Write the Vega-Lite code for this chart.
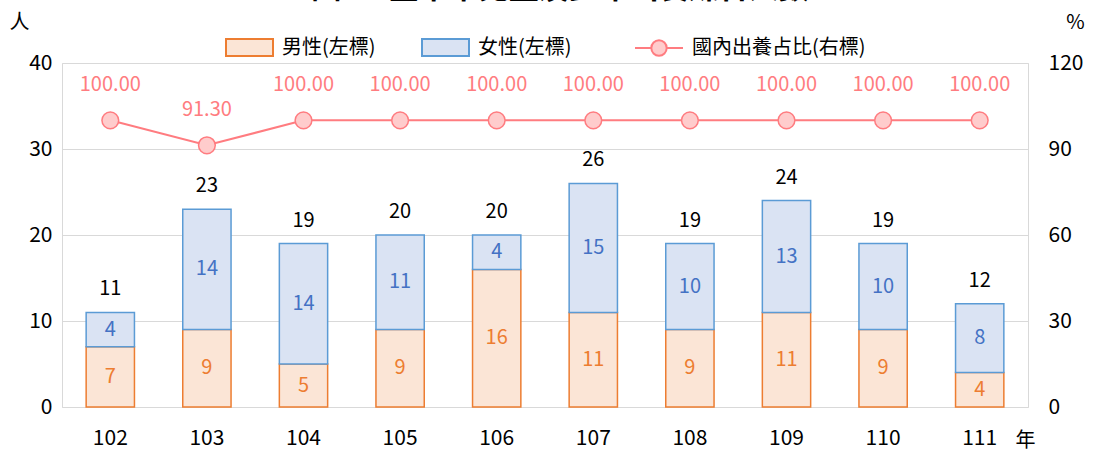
{
  "$schema": "https://vega.github.io/schema/vega-lite/v6.json",
  "width": 966,
  "height": 344,
  "autosize": {"type": "none"},
  "padding": {"left": 62, "top": 63, "right": 67, "bottom": 46},
  "config": {
    "font": "Noto Sans CJK TC",
    "view": {"stroke": "#D9D9D9", "strokeWidth": 1},
    "axis": {"labelFont": "Noto Sans CJK TC", "titleFont": "Noto Sans CJK TC", "labelColor": "#000000", "titleColor": "#000000", "labelFontSize": 21, "titleFontSize": 20, "titleFontWeight": "normal", "ticks": false, "domain": false},
    "legend": {"labelFont": "Noto Sans CJK TC", "labelFontSize": 20, "labelColor": "#000000", "labelLimit": 0}
  },
  "title": {"text": "圖1　臺中市兒童及少年出養媒合人數", "fontSize": 30, "fontWeight": "bold", "font": "Noto Sans CJK TC", "anchor": "middle", "baseline": "bottom", "dx": 15, "offset": -22, "color": "#000000"},
  "datasets": {
    "bars": [
      {"year": "102", "sex": "男性(左標)", "n": 7}, {"year": "102", "sex": "女性(左標)", "n": 4},
      {"year": "103", "sex": "男性(左標)", "n": 9}, {"year": "103", "sex": "女性(左標)", "n": 14},
      {"year": "104", "sex": "男性(左標)", "n": 5}, {"year": "104", "sex": "女性(左標)", "n": 14},
      {"year": "105", "sex": "男性(左標)", "n": 9}, {"year": "105", "sex": "女性(左標)", "n": 11},
      {"year": "106", "sex": "男性(左標)", "n": 16}, {"year": "106", "sex": "女性(左標)", "n": 4},
      {"year": "107", "sex": "男性(左標)", "n": 11}, {"year": "107", "sex": "女性(左標)", "n": 15},
      {"year": "108", "sex": "男性(左標)", "n": 9}, {"year": "108", "sex": "女性(左標)", "n": 10},
      {"year": "109", "sex": "男性(左標)", "n": 11}, {"year": "109", "sex": "女性(左標)", "n": 13},
      {"year": "110", "sex": "男性(左標)", "n": 9}, {"year": "110", "sex": "女性(左標)", "n": 10},
      {"year": "111", "sex": "男性(左標)", "n": 4}, {"year": "111", "sex": "女性(左標)", "n": 8}
    ],
    "totals": [
      {"year": "102", "total": 11, "ratio": 100.0},
      {"year": "103", "total": 23, "ratio": 91.3},
      {"year": "104", "total": 19, "ratio": 100.0},
      {"year": "105", "total": 20, "ratio": 100.0},
      {"year": "106", "total": 20, "ratio": 100.0},
      {"year": "107", "total": 26, "ratio": 100.0},
      {"year": "108", "total": 19, "ratio": 100.0},
      {"year": "109", "total": 24, "ratio": 100.0},
      {"year": "110", "total": 19, "ratio": 100.0},
      {"year": "111", "total": 12, "ratio": 100.0}
    ]
  },
  "encoding": {
    "x": {"field": "year", "type": "ordinal", "scale": {"paddingInner": 0.5, "paddingOuter": 0.25},
      "axis": {"labelAngle": 0, "labelPadding": 20, "labelBaseline": "top", "grid": false, "title": "年", "titleX": 963, "titleY": 33, "titleAlign": "center", "titleBaseline": "middle", "titleAnchor": null}}
  },
  "layer": [
    {
      "data": {"name": "bars"},
      "layer": [
        {
          "mark": {"type": "bar", "strokeWidth": 1.5},
          "encoding": {
            "y": {"field": "n", "type": "quantitative", "stack": "zero", "scale": {"domain": [0, 40]},
              "axis": {"values": [0, 10, 20, 30, 40], "grid": true, "gridColor": "#D9D9D9", "labelPadding": 10, "title": "人", "titleAngle": 0, "titleX": -43, "titleY": -41, "titleAlign": "center", "titleBaseline": "middle"}},
            "fill": {"field": "sex", "type": "nominal", "scale": {"domain": ["男性(左標)", "女性(左標)"], "range": ["#FBE5D6", "#DAE3F3"]},
              "legend": {"orient": "none", "direction": "horizontal", "legendX": 163, "legendY": -40, "title": null, "symbolType": "M-1,-0.36H1V0.36H-1Z", "symbolSize": 2209, "symbolStrokeWidth": 2, "labelOffset": 8, "columnPadding": 42}},
            "stroke": {"field": "sex", "type": "nominal", "scale": {"domain": ["男性(左標)", "女性(左標)"], "range": ["#ED7D31", "#5B9BD5"]}, "legend": {"orient": "none", "legendX": 163, "legendY": -40, "title": null, "direction": "horizontal"}},
            "order": {"field": "sex", "sort": "descending"}
          }
        },
        {
          "mark": {"type": "text", "fontSize": 20, "baseline": "middle"},
          "encoding": {
            "y": {"field": "n", "type": "quantitative", "stack": "zero", "bandPosition": 0.5, "title": "人"},
            "text": {"field": "n", "type": "quantitative"},
            "color": {"field": "sex", "type": "nominal", "scale": {"domain": ["男性(左標)", "女性(左標)"], "range": ["#ED7D31", "#4472C4"]}, "legend": null},
            "order": {"field": "sex", "sort": "descending"}
          }
        },
        {
          "data": {"name": "totals"},
          "mark": {"type": "text", "fontSize": 20, "baseline": "bottom", "dy": -13, "color": "#000000"},
          "encoding": {
            "y": {"field": "total", "type": "quantitative", "title": "人"},
            "text": {"field": "total", "type": "quantitative"}
          }
        }
      ]
    },
    {
      "data": {"name": "totals"},
      "layer": [
        {
          "mark": {"type": "line", "strokeWidth": 2},
          "encoding": {
            "y": {"field": "ratio", "type": "quantitative", "scale": {"domain": [0, 120]},
              "axis": {"orient": "right", "values": [0, 30, 60, 90, 120], "grid": false, "labelPadding": 20, "title": "%", "titleAngle": 0, "titleX": 47, "titleY": -41, "titleAlign": "center", "titleBaseline": "middle"}},
            "stroke": {"datum": "國內出養占比(右標)", "type": "nominal", "scale": {"range": ["#FF7C80"]},
              "legend": {"orient": "none", "legendX": 572, "legendY": -40, "title": null, "symbolType": "M-1,0H-0.32M0.32,0H1M-0.32,0A0.32,0.32 0 1,0 0.32,0A0.32,0.32 0 1,0 -0.32,0Z", "symbolSize": 2304, "symbolStrokeWidth": 2, "labelOffset": 8,
                "encode": {"symbols": {"update": {"fill": {"value": "#FFCCCC"}, "stroke": {"value": "#FF7C80"}}}}}}
          }
        },
        {
          "mark": {"type": "circle", "size": 280, "fill": "#FFCCCC", "stroke": "#FF7C80", "strokeWidth": 1.5, "opacity": 1},
          "encoding": {
            "y": {"field": "ratio", "type": "quantitative", "title": "%"}
          }
        },
        {
          "mark": {"type": "text", "fontSize": 20, "baseline": "middle", "dy": -35, "color": "#FF7C80"},
          "encoding": {
            "y": {"field": "ratio", "type": "quantitative", "title": "%"},
            "text": {"field": "ratio", "type": "quantitative", "format": ".2f"}
          }
        }
      ]
    }
  ],
  "resolve": {"scale": {"y": "independent", "stroke": "independent", "fill": "independent", "color": "independent"}, "legend": {"stroke": "independent"}}
}
